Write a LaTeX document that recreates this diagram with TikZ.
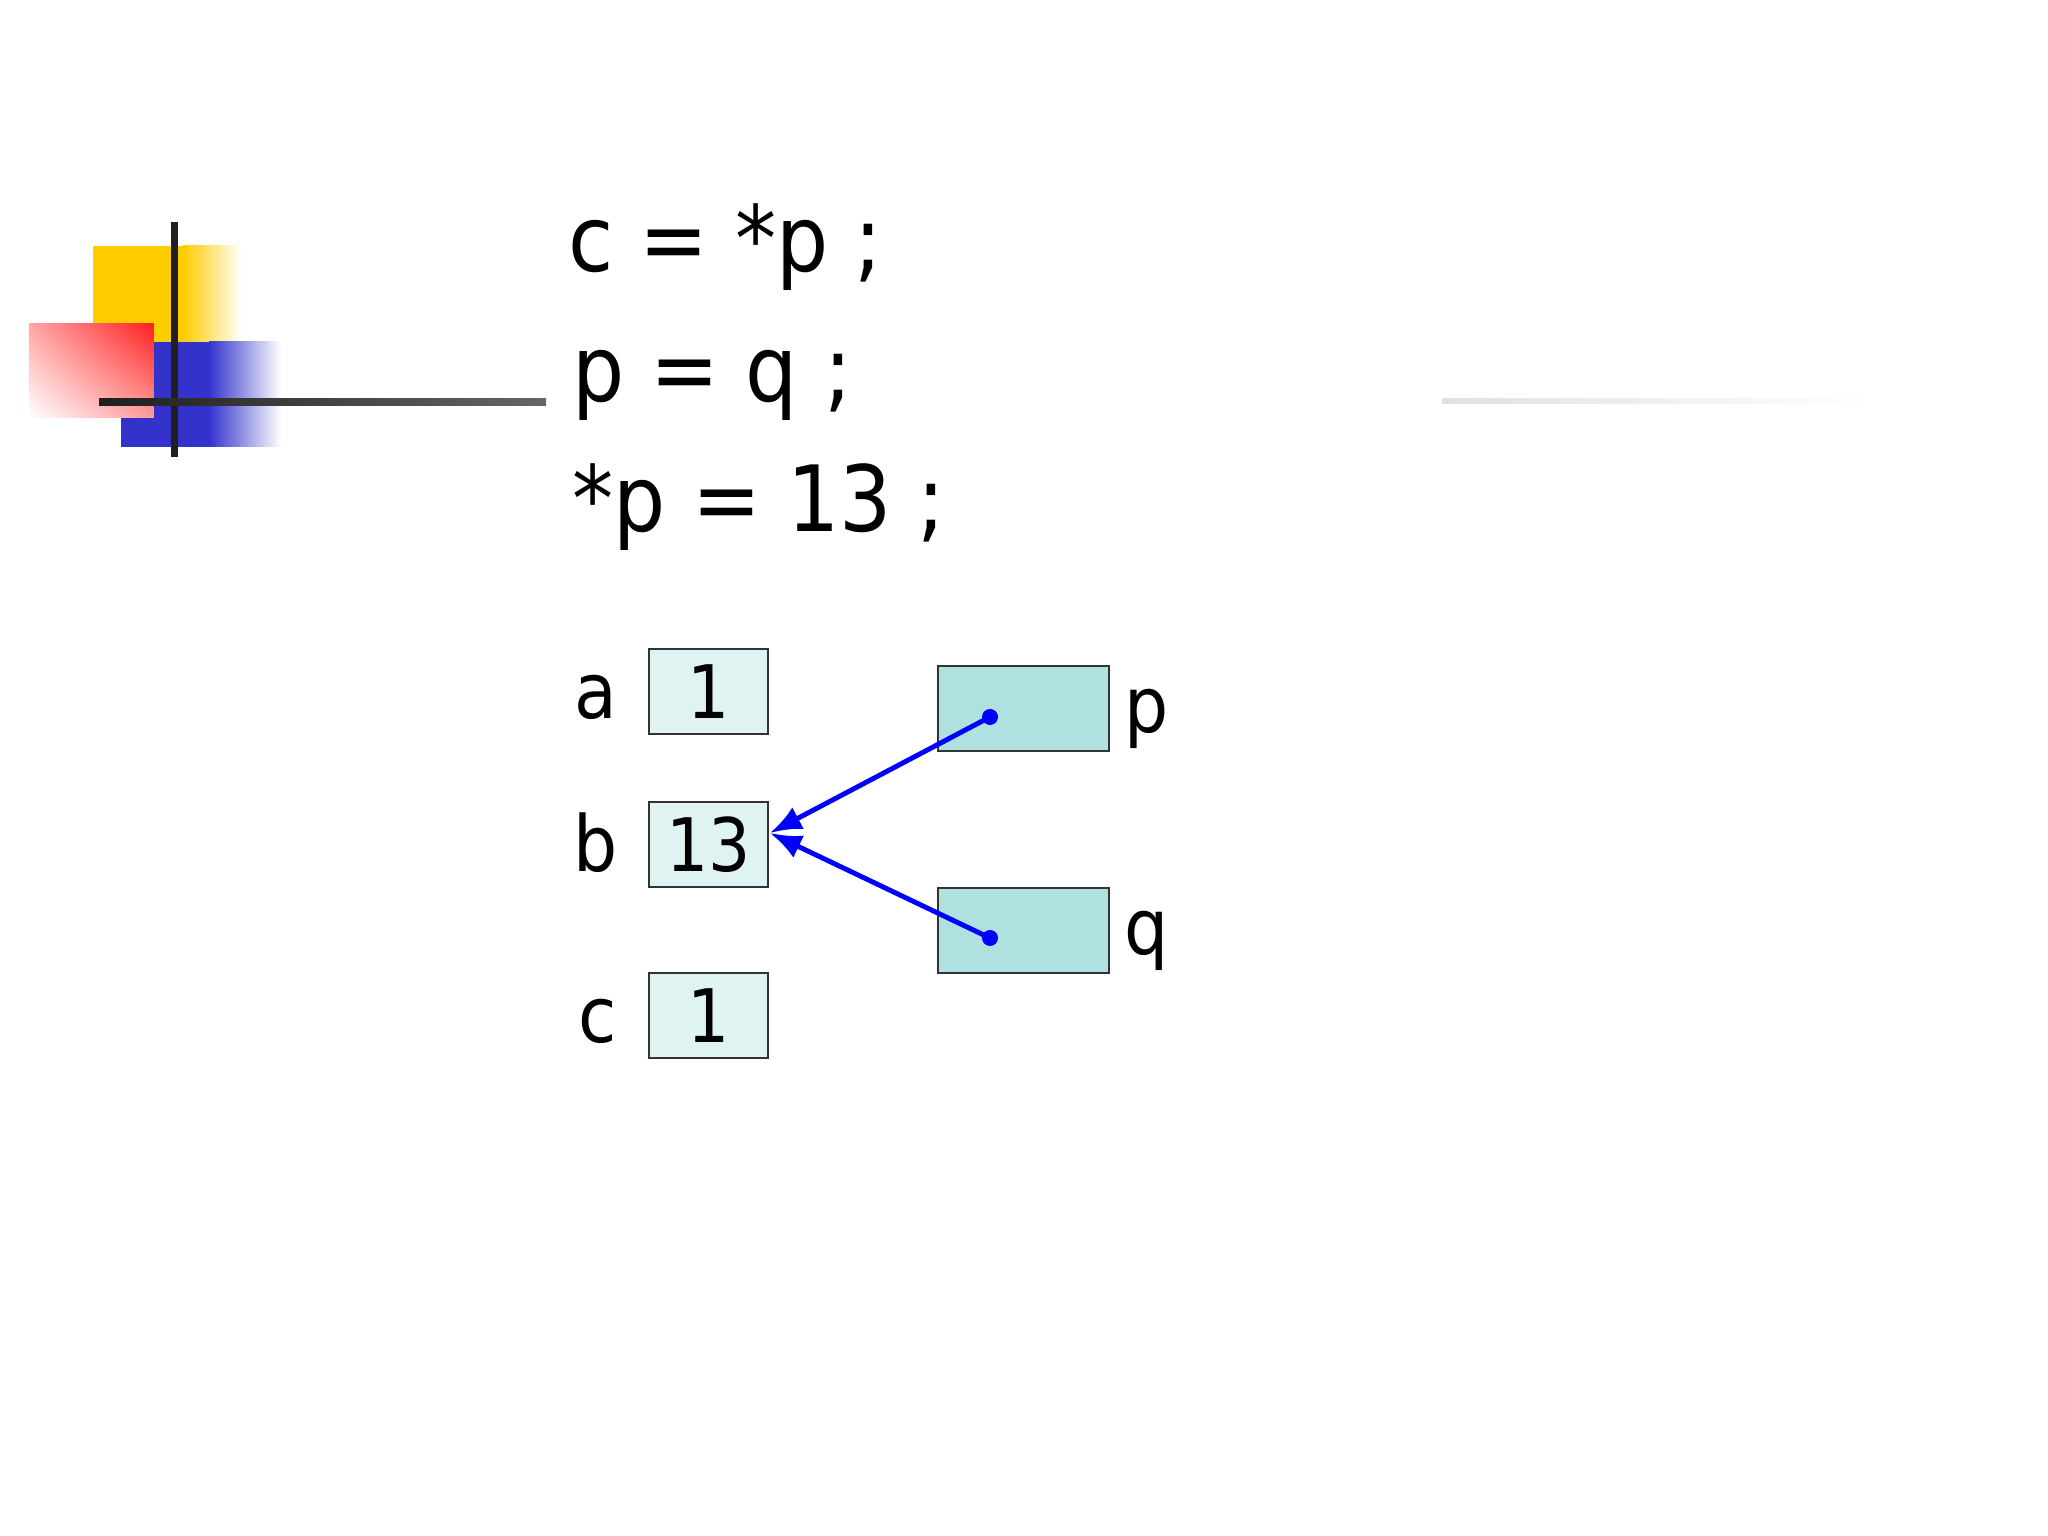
\documentclass[tikz,border=0pt]{standalone}
\usepackage{fontspec}
\setmainfont{DejaVu Sans Condensed}
\usetikzlibrary{positioning,shadings,arrows.meta}
\definecolor{cellfill}{HTML}{DFF3F3}
\definecolor{ptrfill}{HTML}{AFE1E1}
\definecolor{logoyellow}{HTML}{FFCC00}
\definecolor{logoblue}{HTML}{3333CC}
\definecolor{logored}{HTML}{FF2020}

\begin{document}
\begin{tikzpicture}[
  cell/.style={draw=black!80, line width=0.6pt, fill=cellfill, minimum width=1.19cm, minimum height=0.85cm, inner sep=0pt, font=\fontsize{21}{25}\selectfont},
  ptr/.style={draw=black!80, line width=0.6pt, fill=ptrfill, minimum width=1.71cm, minimum height=0.85cm, inner sep=0pt},
  lbl/.style={inner sep=0pt, font=\fontsize{22}{26}\selectfont},
  code/.style={anchor=base west, inner sep=0pt, font=\fontsize{26}{31}\selectfont},
  dot/.style={circle, fill=blue, inner sep=0pt, minimum size=0.16cm}
]
\useasboundingbox[fill=white] (0,0) rectangle (20.48,15.36);

% logo
\fill[logoyellow] (0.93,11.94) rectangle (1.83,12.90);
\shade[left color=logoyellow, right color=white] (1.83,11.94) rectangle (2.42,12.90);
\fill[logoblue] (1.21,10.89) rectangle (2.09,11.94);
\shade[left color=logoblue, right color=white] (2.09,10.89) rectangle (2.81,11.94);
\shade[upper right=logored, upper left=logored!40, lower right=logored!45, lower left=white] (0.29,11.18) rectangle (1.54,12.12);
\fill[black!88] (1.705,10.79) rectangle (1.775,13.14);
\shade[left color=black!88, right color=black!60] (0.99,11.305) rectangle (5.46,11.375);
\shade[left color=black!12, right color=white] (14.42,11.32) rectangle (18.70,11.37);

% code
\node[code] (l1) at (5.68,12.64) {c = *p ;};
\node[code] (l2) at (5.72,11.34) {p = q ;};
\node[code] (l3) at (5.72,10.04) {*p = 13 ;};

% memory
\node[cell] (a) at (7.085,8.445) {1};
\node[cell] (b) at (7.085,6.915) {13};
\node[cell] (c) at (7.085,5.205) {1};
\node[ptr] (p) at (10.235,8.275) {};
\node[ptr] (q) at (10.235,6.055) {};

\node[lbl, base left=0.3cm of a] (la) {a};
\node[lbl, base left=0.3cm of b] (lb) {b};
\node[lbl, base left=0.3cm of c] (lc) {c};
\node[lbl, right=0.14cm of p, yshift=-3pt] (lp) {p};
\node[lbl, right=0.14cm of q, yshift=-3pt] (lq) {q};

\node[dot] (dp) at (9.90,8.19) {};
\node[dot] (dq) at (9.90,5.98) {};
\coordinate (bin) at (7.70,7.03);
\draw [->,>={Latex[length=9pt,width=7pt]},line width=1.4pt,blue] (dp.center) -- (bin);
\draw [->,>={Latex[length=9pt,width=7pt]},line width=1.4pt,blue] (dq.center) -- (bin);
\end{tikzpicture}
\end{document}
